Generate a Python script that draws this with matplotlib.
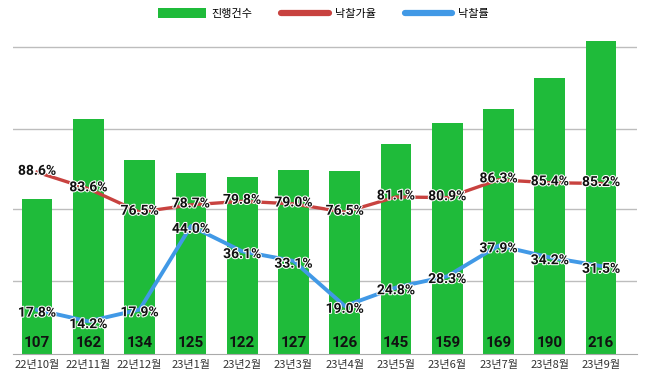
import matplotlib.pyplot as plt
import matplotlib.patheffects as pe
from matplotlib.patches import Patch
from matplotlib.lines import Line2D

plt.rcParams['font.family'] = ['Noto Sans CJK KR', 'DejaVu Sans']

months = ['22년10월', '22년11월', '22년12월', '23년1월', '23년2월', '23년3월',
          '23년4월', '23년5월', '23년6월', '23년7월', '23년8월', '23년9월']
counts = [107, 162, 134, 125, 122, 127, 126, 145, 159, 169, 190, 216]
price_rate = [88.6, 83.6, 76.5, 78.7, 79.8, 79.0, 76.5, 81.1, 80.9, 86.3, 85.4, 85.2]
win_rate = [17.8, 14.2, 17.9, 44.0, 36.1, 33.1, 19.0, 24.8, 28.3, 37.9, 34.2, 31.5]

GREEN = '#1fbb3a'
RED = '#c8423f'
BLUE = '#4199e6'

fig = plt.figure(figsize=(6.47, 3.77), dpi=100)
ax = fig.add_axes([13 / 647, 23 / 377, 624 / 647, 324 / 377])
x = list(range(len(months)))

ax.bar(x, counts, width=0.6, color=GREEN, zorder=2)
ax.set_xlim(-0.47, 11.7)
ax.set_ylim(0, 223.4)
ax.set_yticks([50, 100, 155, 212])
ax.yaxis.grid(True, color='#bdbdbd', linewidth=1.0, zorder=0)
ax.set_axisbelow(True)
ax.set_xticks(x)
ax.set_xticklabels(months)
for s in ['top', 'left', 'right']:
    ax.spines[s].set_visible(False)
ax.spines['bottom'].set_color('#aaaaaa')

for xi, c in zip(x, counts):
    ax.text(xi, 7.6, str(c), ha='center', va='center', fontsize=11,
            fontweight='bold', color='#111111', family='Roboto', zorder=5)

stroke = [pe.withStroke(linewidth=1.5, foreground='white')]

ax_red = ax.twinx()
ax_red.set_ylim(33.5, 131.7)
ax_red.plot(x, price_rate, color=RED, linewidth=2.4, zorder=3)
ax_red.axis('off')
for xi, v in zip(x, price_rate):
    ax_red.annotate(f'{v:.1f}%', (xi, v), xytext=(0, 1), textcoords='offset points',
                    ha='center', va='center', fontsize=10, fontweight='bold',
                    family='Roboto', color='#111111', path_effects=stroke, zorder=6)

ax_blue = ax.twinx()
ax_blue.set_ylim(4.0, 105.3)
ax_blue.plot(x, win_rate, color=BLUE, linewidth=2.8, zorder=3)
ax_blue.axis('off')
for xi, v in zip(x, win_rate):
    ax_blue.annotate(f'{v:.1f}%', (xi, v), xytext=(0, -2), textcoords='offset points',
                     ha='center', va='center', fontsize=10, fontweight='bold',
                     family='Roboto', color='#111111', path_effects=stroke, zorder=6)

# twinx turns the left ticks back on, so set these last
ax.tick_params(axis='y', left=False, labelleft=False, right=False)
ax.tick_params(axis='x', length=0, pad=4, labelsize=8, labelcolor='#333333')

handles = [Patch(facecolor=GREEN, label='진행건수'),
           Line2D([], [], color=RED, linewidth=4.5, solid_capstyle='round', label='낙찰가율'),
           Line2D([], [], color=BLUE, linewidth=4.5, solid_capstyle='round', label='낙찰률')]
fig.legend(handles=handles, loc='upper center', bbox_to_anchor=(0.5, 1.005), ncol=3,
           frameon=False, fontsize=8, handlelength=4.3, handleheight=1.0,
           handletextpad=0.5, columnspacing=2.6)

fig.savefig('out.png', dpi=100)
